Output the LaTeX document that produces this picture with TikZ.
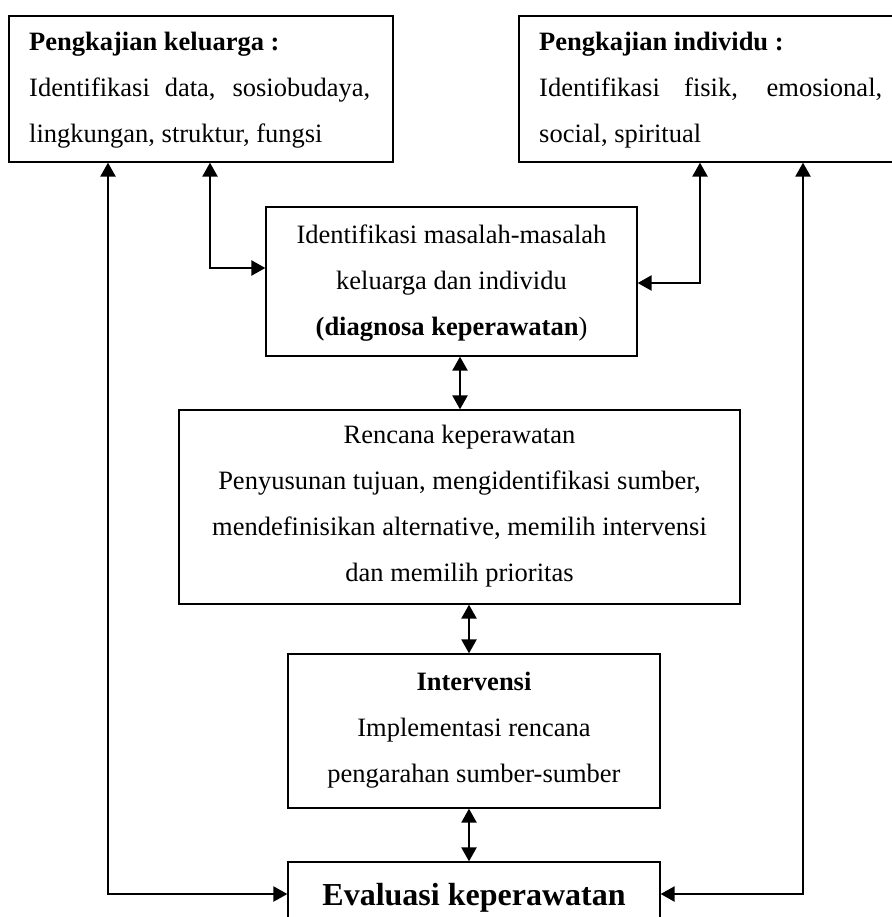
\documentclass[tikz,border=0pt]{standalone}
\usepackage{fontspec}
\setmainfont{Liberation Serif}
\usetikzlibrary{arrows.meta}
\begin{document}
\begin{tikzpicture}[x=1pt,y=-1pt,
  box/.style={draw, line width=1.3pt, rectangle, inner sep=0pt},
  link/.style={line width=2.4pt, {Triangle[length=14pt,width=15pt]}-{Triangle[length=14pt,width=15pt]}},
  txt/.style={inner sep=0pt, font=\fontsize{26.5}{46}\selectfont}]
\useasboundingbox (0,0) rectangle (891,917);
% boxes
\node[box, minimum width=384pt, minimum height=146pt] (kel) at (201,89) {};
\node[box, minimum width=386pt, minimum height=146pt] (ind) at (712,89) {};
\node[box, minimum width=371pt, minimum height=149pt] (diag) at (451.5,281.5) {};
\node[box, minimum width=561pt, minimum height=194pt] (ren) at (459.5,507) {};
\node[box, minimum width=372pt, minimum height=154pt] (intv) at (474,731) {};
\node[box, minimum width=372pt, minimum height=64pt] (eval) at (474,894) {};
% texts (base anchor = baseline of the last line)
\node[txt, align=left, anchor=base west] (kelT) at (29,143)
  {\textbf{Pengkajian keluarga :}\\ \makebox[341pt][s]{Identifikasi data, sosiobudaya,}\\ lingkungan, struktur, fungsi};
\node[txt, align=left, anchor=base west] (indT) at (539,143)
  {\textbf{Pengkajian individu :}\\ \makebox[343pt][s]{Identifikasi fisik, emosional,}\\ social, spiritual};
\node[txt, align=center, anchor=base] (diagT) at (451.5,335)
  {Identifikasi masalah-masalah\\ keluarga dan individu\\ \textbf{(diagnosa keperawatan})};
\node[txt, align=center, anchor=base] (renT) at (459.5,581)
  {Rencana keperawatan\\ Penyusunan tujuan, mengidentifikasi sumber,\\ mendefinisikan alternative, memilih intervensi\\ dan memilih prioritas};
\node[txt, align=center, anchor=base] (intvT) at (474,782)
  {\textbf{Intervensi}\\ Implementasi rencana\\ pengarahan sumber-sumber};
\node[inner sep=0pt, anchor=base, font=\bfseries\fontsize{32}{38}\selectfont] (evalT) at (474,905) {Evaluasi keperawatan};
% helper coordinates
\coordinate (L1) at (108,0);
\coordinate (L2) at (210,0);
\coordinate (R1) at (700,0);
\coordinate (R2) at (803,0);
\coordinate (yA) at (0,268);
\coordinate (yB) at (0,283);
\coordinate (C1) at (460,0);
\coordinate (C2) at (469,0);
% connectors
\draw[link] (kel.south -| L1) |- (eval.west);
\draw[link] (kel.south -| L2) |- (diag.west |- yA);
\draw[link] (ind.south -| R1) |- (diag.east |- yB);
\draw[link] (ind.south -| R2) |- (eval.east);
\draw[link] (diag.south -| C1) -- (ren.north -| C1);
\draw[link] (ren.south -| C2) -- (intv.north -| C2);
\draw[link] (intv.south -| C2) -- (eval.north -| C2);
\end{tikzpicture}
\end{document}
